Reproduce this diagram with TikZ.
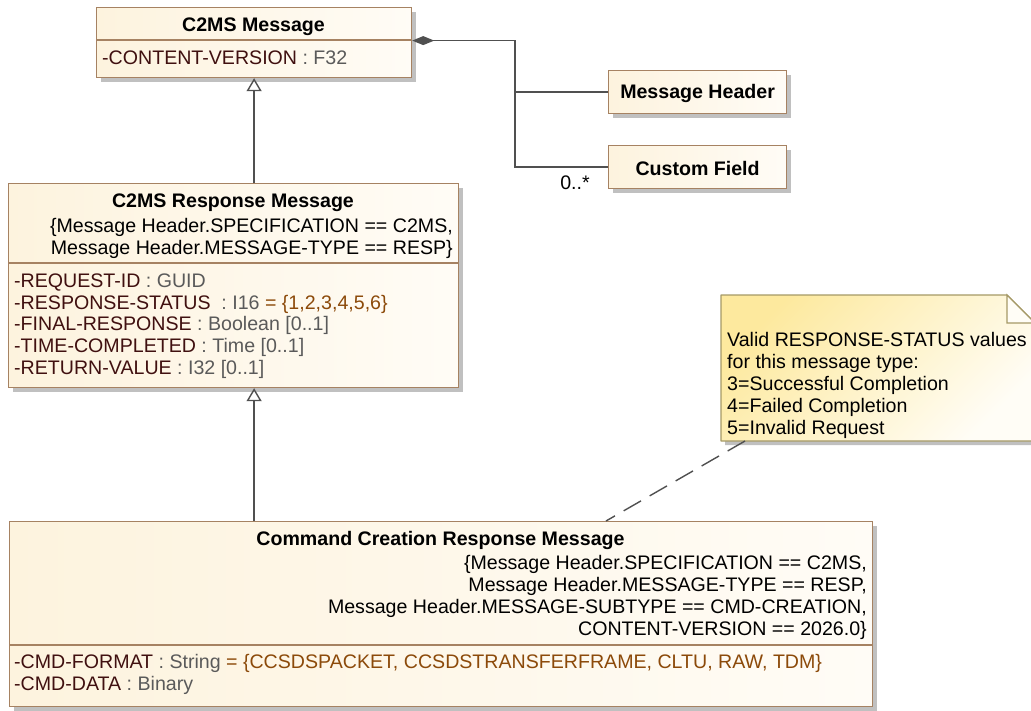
\documentclass[tikz,border=0pt]{standalone}
\usepackage{fontspec}
\setmainfont{Liberation Sans}
\usetikzlibrary{arrows.meta,shadows}
\definecolor{boxline}{RGB}{166,130,98}
\definecolor{boxfillA}{RGB}{253,243,222}
\definecolor{boxfillB}{RGB}{255,252,246}
\definecolor{shadowgray}{RGB}{192,192,192}
\definecolor{notefillA}{RGB}{253,233,158}
\definecolor{notefillB}{RGB}{255,253,246}
\definecolor{noteline}{RGB}{165,153,102}
\definecolor{linkcol}{RGB}{80,80,80}
\definecolor{attrname}{RGB}{64,16,16}
\definecolor{attrtype}{RGB}{90,90,90}
\definecolor{attrval}{RGB}{140,74,10}
\newcommand{\attr}[2]{\textcolor{attrname}{#1}~\textcolor{attrtype}{:~#2}}
\newcommand{\attrdef}[1]{~\textcolor{attrval}{=~#1}}

\begin{document}
\begin{tikzpicture}[
    x=1pt, y=-1pt,
    font=\fontsize{19.6}{21.8}\selectfont,
    cls/.style={draw=boxline, line width=1.2pt, left color=boxfillA, right color=boxfillB, drop shadow={shadow xshift=4pt, shadow yshift=-4pt, fill=shadowgray, opacity=1}, anchor=north west, inner sep=0pt},
    clstitle/.style={font=\fontsize{19.6}{21.8}\selectfont\bfseries, inner sep=0pt},
    attrs/.style={anchor=north west, align=left, inner sep=0pt},
    cons/.style={anchor=north east, align=right, inner sep=0pt},
    sepline/.style={draw=boxline, line width=1.2pt},
    link/.style={draw=linkcol, line width=1.4pt},
    gen/.style={link, -{Triangle[open, length=13pt, width=15pt]}},
    comp/.style={link, {Diamond[length=22pt, width=9pt]}-},
    anchorline/.style={link, dash pattern=on 20pt off 10pt},
]
\useasboundingbox (0,0) rectangle (1031,710);

% classes
\node[cls, minimum width=315pt, minimum height=70pt] (c2ms) at (96,7) {};
\node[cls, minimum width=178pt, minimum height=43pt] (hdr) at (608,70) {};
\node[cls, minimum width=178pt, minimum height=43pt] (cfield) at (608,145) {};
\node[cls, minimum width=450pt, minimum height=204pt] (resp) at (8,183) {};
\node[cls, minimum width=863pt, minimum height=185pt] (ccr) at (9,521) {};

\draw[sepline] (96,40) -- (411,40);
\draw[sepline] (8,263) -- (458,263);
\draw[sepline] (9,645) -- (872,645);

\node[clstitle] at (253.5,26.5) {C2MS Message};
\node[attrs] at (102,50.5) {\attr{-CONTENT-VERSION}{F32}};

\node[clstitle] at ([yshift=-1.5pt]hdr.center) {Message Header};
\node[clstitle] at ([yshift=-1.5pt]cfield.center) {Custom Field};

\node[clstitle] at (233,202.5) {C2MS Response Message};
\node[cons] at (453,218.5) {\{Message Header.SPECIFICATION == C2MS,\\Message Header.MESSAGE-TYPE == RESP\}};
\node[attrs] at (14,273.5) {\attr{-REQUEST-ID}{GUID}\\
  \attr{-RESPONSE-STATUS~}{I16}\attrdef{\{1,2,3,4,5,6\}}\\
  \attr{-FINAL-RESPONSE}{Boolean [0..1]}\\
  \attr{-TIME-COMPLETED}{Time [0..1]}\\
  \attr{-RETURN-VALUE}{I32 [0..1]}};

\node[clstitle] at (440.5,540) {Command Creation Response Message};
\node[cons] at (867,555.5) {\{Message Header.SPECIFICATION == C2MS,\\Message Header.MESSAGE-TYPE == RESP,\\Message Header.MESSAGE-SUBTYPE == CMD-CREATION,\\CONTENT-VERSION == 2026.0\}};
\node[attrs] at (14,654.5) {\attr{-CMD-FORMAT}{String}\attrdef{\{CCSDSPACKET, CCSDSTRANSFERFRAME, CLTU, RAW, TDM\}}\\
  \attr{-CMD-DATA}{Binary}};

% note
\fill[shadowgray, shift={(4,4)}] (721,295) -- (1007,295) -- (1035,323) -- (1035,441) -- (721,441) -- cycle;
\shade[top color=notefillA, bottom color=notefillB, shading angle=45] (721,295) -- (1007,295) -- (1035,323) -- (1035,441) -- (721,441) -- cycle;
\draw[noteline, line width=1.2pt, line join=round] (721,295) -- (1007,295) -- (1035,323) -- (1035,441) -- (721,441) -- cycle;
\draw[noteline, line width=1.2pt, fill=notefillB] (1007,295) -- (1007,323) -- (1035,323) -- cycle;
\node[attrs] (note) at (727,332.5) {Valid RESPONSE-STATUS values\\for this message type:\\3=Successful Completion\\4=Failed Completion\\5=Invalid Request};
\coordinate (note-foot) at (745,441);
\coordinate (ccr-top) at (606,521);

% connectors
\coordinate (hub) at (515,91.5);
\draw[gen] (resp.north -| c2ms.south) -- (c2ms.south);
\draw[gen] (ccr.north -| c2ms.south) -- (resp.south -| c2ms.south);
\draw[comp] ([yshift=2pt]c2ms.east) -| (hub) |- (hdr.west);
\draw[link] (hub) |- (cfield.west);
\node[inner sep=0pt] at (575,183) {0..*};
\draw[anchorline] (note-foot) -- (ccr-top);
\end{tikzpicture}
\end{document}
